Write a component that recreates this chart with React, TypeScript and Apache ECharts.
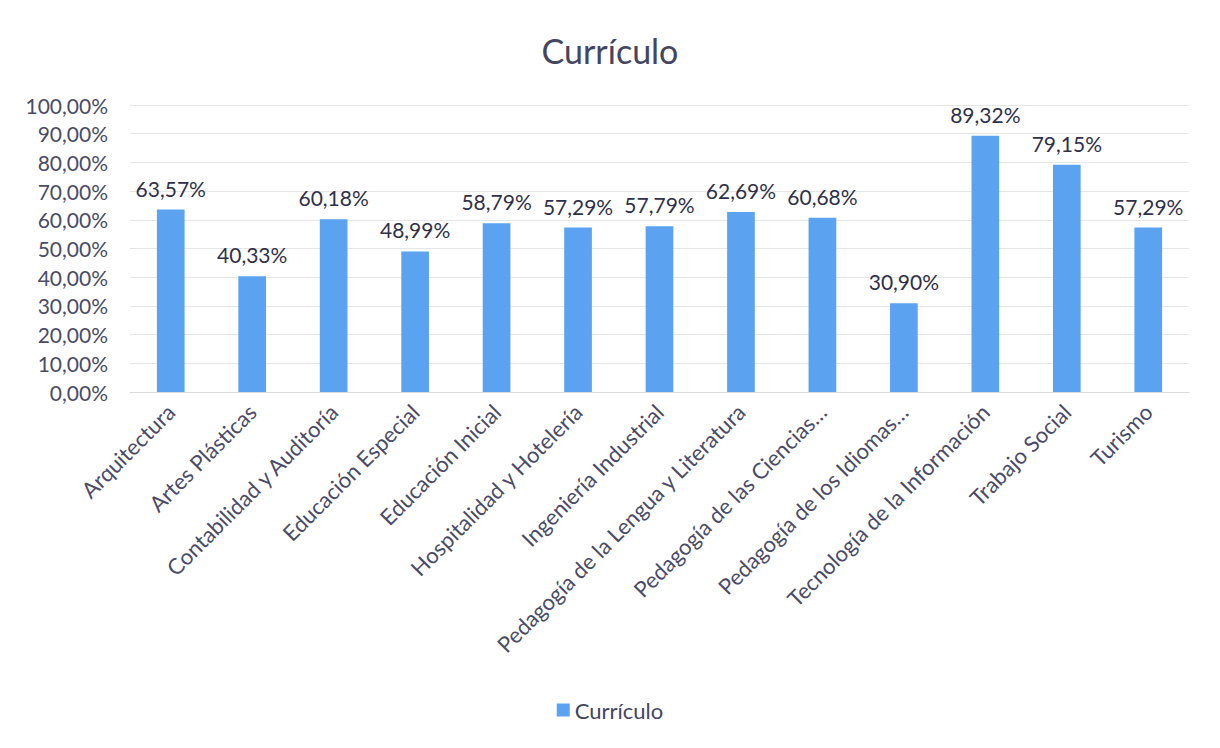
import React, { useEffect, useRef } from "react";
import * as echarts from "echarts";

const categories = [
  "Arquitectura",
  "Artes Plásticas",
  "Contabilidad y Auditoría",
  "Educación Especial",
  "Educación Inicial",
  "Hospitalidad y Hotelería",
  "Ingeniería Industrial",
  "Pedagogía de la Lengua y Literatura",
  "Pedagogía de las Ciencias…",
  "Pedagogía de los Idiomas…",
  "Tecnología de la Información",
  "Trabajo Social",
  "Turismo",
];

const values = [63.57, 40.33, 60.18, 48.99, 58.79, 57.29, 57.79, 62.69, 60.68, 30.9, 89.32, 79.15, 57.29];

const seriesName = "Currículo";
const titleText = "Currículo";

const fmt = (v: number) => v.toFixed(2).replace(".", ",") + "%";

export default function App() {
  const ref = useRef<HTMLDivElement>(null);
  useEffect(() => {
    if (!ref.current) return;
    const chart = echarts.init(ref.current, null, { renderer: "svg" });
    const font = "Lato, 'Open Sans', sans-serif";
    chart.setOption({
      animation: false,
      backgroundColor: "#ffffff",
      textStyle: { fontFamily: font },
      title: {
        text: titleText,
        left: "center",
        top: 28,
        textStyle: { fontSize: 34, fontWeight: "normal", color: "#44455f", fontFamily: font },
      },
      legend: {
        data: [seriesName],
        bottom: 22,
        left: "center",
        icon: "rect",
        itemWidth: 13,
        itemHeight: 13,
        itemGap: 5,
        textStyle: { fontSize: 22, color: "#44455f", fontFamily: font },
      },
      grid: { left: 130, right: 31, top: 105, bottom: 356, containLabel: false },
      xAxis: {
        type: "category",
        data: categories,
        axisLine: { lineStyle: { color: "#d9d9d9" } },
        axisTick: { show: false },
        axisLabel: {
          rotate: 45,
          interval: 0,
          fontSize: 22,
          color: "#4a4b66",
          margin: 16,
          fontFamily: font,
        },
      },
      yAxis: {
        type: "value",
        min: 0,
        max: 100,
        interval: 10,
        axisLine: { show: false },
        axisTick: { show: false },
        splitLine: { lineStyle: { color: "#e6e6e6" } },
        axisLabel: {
          fontSize: 21,
          color: "#4a4b66",
          margin: 22,
          fontFamily: font,
          formatter: (v: number) => fmt(v),
        },
      },
      series: [
        {
          name: seriesName,
          type: "bar",
          data: values,
          barWidth: "34%",
          itemStyle: { color: "#5ba3f0" },
          label: {
            show: true,
            position: "top",
            distance: 11,
            fontSize: 21,
            color: "#2f3048",
            fontFamily: font,
            formatter: (p: any) => fmt(p.value),
          },
        },
      ],
    });
    return () => chart.dispose();
  }, []);
  return (
    <div
      ref={ref}
      style={{ position: "absolute", left: 0, top: 0, width: 1220, height: 748 }}
    />
  );
}
